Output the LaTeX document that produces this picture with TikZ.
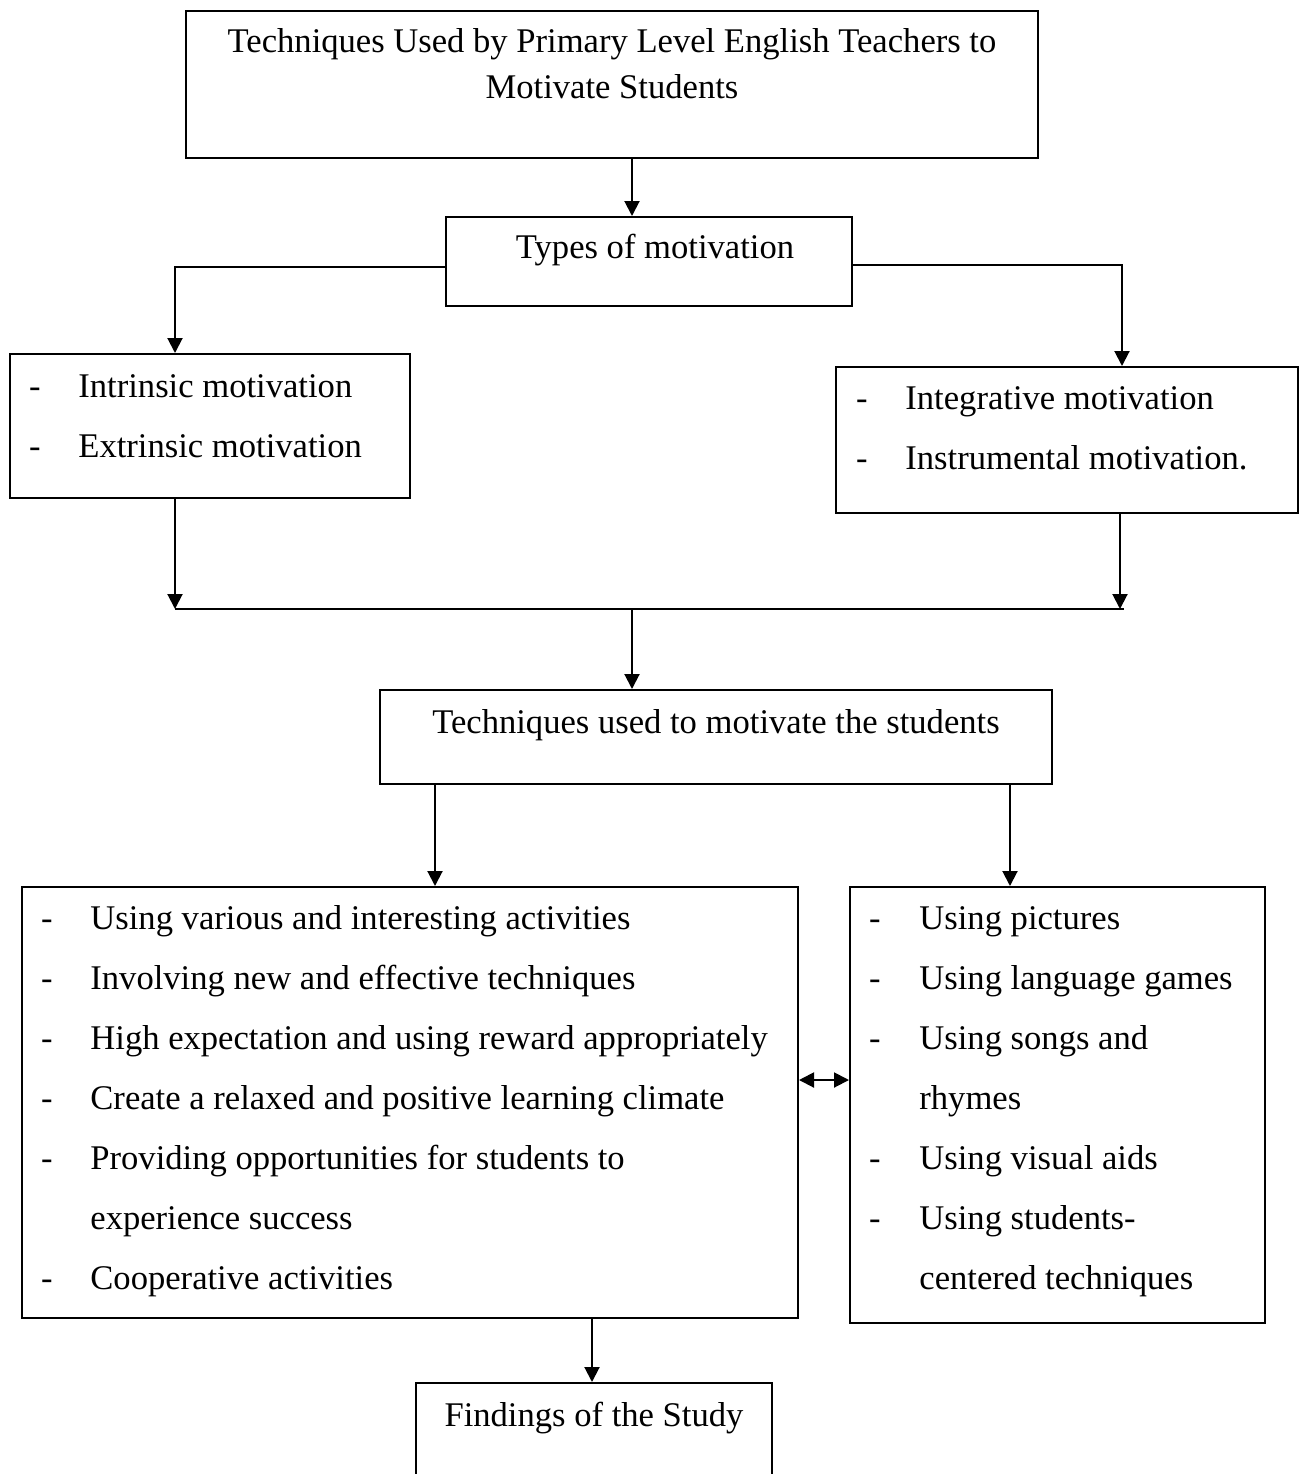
\documentclass[tikz,border=0pt]{standalone}
\usepackage{fontspec}
\setmainfont{Liberation Serif}
\usetikzlibrary{arrows.meta}
\begin{document}
\begin{tikzpicture}[x=0.5pt,y=-0.5pt,
  box/.style={draw, line width=1pt, inner sep=0pt, rectangle},
  txt/.style={inner sep=0pt, font=\fontsize{17.3}{20}\selectfont},
  item/.style={txt, anchor=base west},
  dsh/.style={txt, anchor=base},
  ctr/.style={txt, anchor=base},
  conn/.style={line width=1pt},
  arr/.style={conn, -{Triangle[length=7.5pt,width=7.5pt]}},
  dbl/.style={conn, {Triangle[length=7.5pt,width=7.5pt]}-{Triangle[length=7.5pt,width=7.5pt]}}]
\useasboundingbox (0,0) rectangle (1306,1474);
% boxes
\node[box, minimum width=426pt, minimum height=73.5pt] (top) at (612,84.5) {};
\node[box, minimum width=203pt, minimum height=44.5pt] (types) at (649,261.5) {};
\node[box, minimum width=200pt, minimum height=72pt] (left1) at (210,426) {};
\node[box, minimum width=231pt, minimum height=73pt] (right1) at (1067,440) {};
\node[box, minimum width=336pt, minimum height=47pt] (tech) at (716,737) {};
\node[box, minimum width=388pt, minimum height=215.5pt] (left2) at (410,1102.5) {};
\node[box, minimum width=207.5pt, minimum height=218pt] (right2) at (1057.5,1105) {};
\node[box, minimum width=178pt, minimum height=58.5pt] (find) at (594,1441.5) {};
% texts
\node[ctr] (t1) at (612,52) {Techniques Used by Primary Level English Teachers to};
\node[ctr] (t2) at (612,98) {Motivate Students};
\node[ctr] (ty) at (655,258) {Types of motivation};
\node[dsh] (d11) at (35,397) {-};
\node[item] (i11) at (78,397) {Intrinsic motivation};
\node[dsh] (d12) at (35,457) {-};
\node[item] (i12) at (78,457) {Extrinsic motivation};
\node[dsh] (d21) at (862,409) {-};
\node[item] (i21) at (905,409) {Integrative motivation};
\node[dsh] (d22) at (862,469) {-};
\node[item] (i22) at (905,469) {Instrumental motivation.};
\node[ctr] (tt) at (716,733) {Techniques used to motivate the students};
% left list
\node[dsh] (a1) at (47,929) {-};
\node[item] (l1) at (90,929) {Using various and interesting activities};
\node[dsh] (a2) at (47,989) {-};
\node[item] (l2) at (90,989) {Involving new and effective techniques};
\node[dsh] (a3) at (47,1049) {-};
\node[item] (l3) at (90,1049) {High expectation and using reward appropriately};
\node[dsh] (a4) at (47,1109) {-};
\node[item] (l4) at (90,1109) {Create a relaxed and positive learning climate};
\node[dsh] (a5) at (47,1169) {-};
\node[item] (l5) at (90,1169) {Providing opportunities for students to};
\node[item] (l6) at (90,1229) {experience success};
\node[dsh] (a7) at (47,1289) {-};
\node[item] (l7) at (90,1289) {Cooperative activities};
% right list
\node[dsh] (b1) at (875,929) {-};
\node[item] (r1) at (919,929) {Using pictures};
\node[dsh] (b2) at (875,989) {-};
\node[item] (r2) at (919,989) {Using language games};
\node[dsh] (b3) at (875,1049) {-};
\node[item] (r3) at (919,1049) {Using songs and};
\node[item] (r4) at (919,1109) {rhymes};
\node[dsh] (b5) at (875,1169) {-};
\node[item] (r5) at (919,1169) {Using visual aids};
\node[dsh] (b6) at (875,1229) {-};
\node[item] (r6) at (919,1229) {Using students-};
\node[item] (r7) at (919,1289) {centered techniques};
\node[ctr] (tf) at (594,1426) {Findings of the Study};
% helper coordinates
\coordinate (x632) at (632,0);
\coordinate (L) at (175,267);
\coordinate (R) at (1122,265);
\coordinate (busL) at (175,609);
\coordinate (busR) at (1124,609);
\coordinate (busR2) at (1120,609);
\coordinate (busM) at (632,609);
\coordinate (x435) at (435,0);
\coordinate (x1010) at (1010,0);
\coordinate (y1080) at (0,1080);
\coordinate (x592) at (592,0);
% connectors
\draw[arr] (top.south -| x632) -- (types.north -| x632);
\draw[arr] (types.west |- L) -- (L) -- (left1.north -| L);
\draw[arr] (types.east |- R) -- (R) -- (right1.north -| R);
\draw[conn] (busL) -- (busR);
\draw[arr] (left1.south -| busL) -- (busL);
\draw[arr] (right1.south -| busR2) -- (busR2);
\draw[arr] (busM) -- (tech.north -| busM);
\draw[arr] (tech.south -| x435) -- (left2.north -| x435);
\draw[arr] (tech.south -| x1010) -- (right2.north -| x1010);
\draw[dbl] (left2.east |- y1080) -- (right2.west |- y1080);
\draw[arr] (left2.south -| x592) -- (find.north -| x592);
\end{tikzpicture}
\end{document}
